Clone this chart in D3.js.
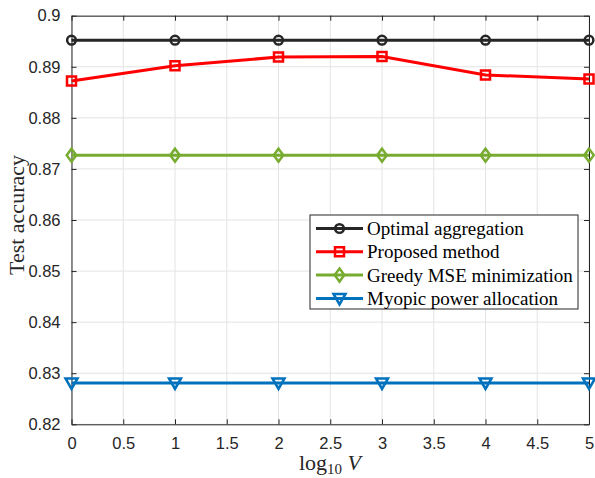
<!DOCTYPE html>
<html><head><meta charset="utf-8">
<script src="https://cdn.jsdelivr.net/npm/d3@7"></script>
<style>body{margin:0;background:#fff}svg{display:block}</style>
</head><body>
<svg id="c" width="595" height="478"></svg>
<script>
const xValues = [0, 1, 2, 3, 4, 5];
const optimal = [0.8952, 0.8952, 0.8952, 0.8952, 0.8952, 0.8952];
const proposed = [0.8872, 0.8902, 0.8919, 0.8920, 0.8884, 0.8876];
const greedy = [0.8727, 0.8727, 0.8727, 0.8727, 0.8727, 0.8727];
const myopic = [0.8281, 0.8281, 0.8281, 0.8281, 0.8281, 0.8281];
const seriesNames = ["Optimal aggregation", "Proposed method", "Greedy MSE minimization", "Myopic power allocation"];
const xTicks = [0, 0.5, 1, 1.5, 2, 2.5, 3, 3.5, 4, 4.5, 5];
const yTicks = [0.82, 0.83, 0.84, 0.85, 0.86, 0.87, 0.88, 0.89, 0.9];

const svg = d3.select("#c");
const L = 71.5, R = 589, T = 15.7, B = 424.3;
const x = d3.scaleLinear().domain([0, 5]).range([L, R]);
const y = d3.scaleLinear().domain([0.82, 0.9]).range([B, T]);
const axisCol = "#262626";

// grid
const g = svg.append("g");
g.selectAll(".gx").data(xTicks).enter().append("line")
  .attr("x1", d => x(d)).attr("x2", d => x(d)).attr("y1", T).attr("y2", B)
  .attr("stroke", "#e3e3e3").attr("stroke-width", 1);
g.selectAll(".gy").data(yTicks).enter().append("line")
  .attr("y1", d => y(d)).attr("y2", d => y(d)).attr("x1", L).attr("x2", R)
  .attr("stroke", "#e3e3e3").attr("stroke-width", 1);

// axes
const fmtY = d => d === 0.9 ? "0.9" : d3.format(".2f")(d);
const fmtX = d => String(d);
const ax = svg.append("g").attr("transform", `translate(0,${B})`)
  .call(d3.axisBottom(x).tickValues(xTicks).tickFormat(fmtX).tickSizeInner(-5).tickSizeOuter(0).tickPadding(13));
const ay = svg.append("g").attr("transform", `translate(${L},0)`)
  .call(d3.axisLeft(y).tickValues(yTicks).tickFormat(fmtY).tickSizeInner(-5).tickSizeOuter(0).tickPadding(11));
const axTop = svg.append("g").attr("transform", `translate(0,${T})`)
  .call(d3.axisTop(x).tickValues(xTicks).tickFormat("").tickSizeInner(-5).tickSizeOuter(0));
const ayR = svg.append("g").attr("transform", `translate(${R},0)`)
  .call(d3.axisRight(y).tickValues(yTicks).tickFormat("").tickSizeInner(-5).tickSizeOuter(0));
[ax, ay, axTop, ayR].forEach(a => {
  a.selectAll("path").attr("stroke", axisCol).attr("stroke-width", 1);
  a.selectAll("line").attr("stroke", axisCol).attr("stroke-width", 1);
  a.selectAll("text").attr("fill", axisCol).attr("font-family", "Liberation Sans, Arial, sans-serif").attr("font-size", 16.5);
});

// series
const series = [
  {name: seriesNames[0], vals: optimal, color: "#262626", marker: "circle"},
  {name: seriesNames[1], vals: proposed, color: "#ff0000", marker: "square"},
  {name: seriesNames[2], vals: greedy, color: "#77ac30", marker: "diamond"},
  {name: seriesNames[3], vals: myopic, color: "#0072bd", marker: "triangle"}
];
function markerPath(type) {
  if (type === "circle") return d3.symbol(d3.symbolCircle, 60)();
  if (type === "square") return "M-4.5,-4.5H4.5V4.5H-4.5Z";
  if (type === "diamond") return "M0,-6.5L4.8,0L0,6.5L-4.8,0Z";
  return "M-6,-4.5H6L0,6Z";
}
const line = d3.line().x((d, i) => x(xValues[i])).y(d => y(d));
series.forEach(s => {
  svg.append("path").datum(s.vals).attr("d", line)
    .attr("fill", "none").attr("stroke", s.color).attr("stroke-width", 3);
  svg.selectAll(null).data(s.vals).enter().append("path")
    .attr("d", markerPath(s.marker))
    .attr("transform", (d, i) => `translate(${x(xValues[i])},${y(d)})`)
    .attr("fill", "none").attr("stroke", s.color).attr("stroke-width", 2.5);
});

// legend
const lg = svg.append("g");
lg.append("rect").attr("x", 310).attr("y", 215).attr("width", 268).attr("height", 94)
  .attr("fill", "#fff").attr("stroke", axisCol).attr("stroke-width", 1);
series.forEach((s, i) => {
  const yy = 228.5 + i * 23.3;
  lg.append("line").attr("x1", 316).attr("x2", 363).attr("y1", yy).attr("y2", yy)
    .attr("stroke", s.color).attr("stroke-width", 3);
  lg.append("path").attr("d", markerPath(s.marker)).attr("transform", `translate(339.5,${yy})`)
    .attr("fill", "none").attr("stroke", s.color).attr("stroke-width", 2.5);
  lg.append("text").attr("x", 367).attr("y", yy + 6.5).text(s.name)
    .attr("font-family", "Liberation Serif, Times New Roman, serif").attr("font-size", 19).attr("fill", "#000");
});

// axis labels
svg.append("text").attr("transform", "translate(24,215) rotate(-90)").attr("text-anchor", "middle")
  .attr("font-family", "Liberation Serif, Times New Roman, serif").attr("font-size", 22).attr("fill", axisCol)
  .text("Test accuracy");
const xl = svg.append("text").attr("x", 330).attr("y", 470).attr("text-anchor", "middle")
  .attr("font-family", "Liberation Serif, Times New Roman, serif").attr("font-size", 22).attr("fill", axisCol);
xl.append("tspan").text("log");
xl.append("tspan").attr("font-size", 15).attr("dy", 4).text("10");
xl.append("tspan").attr("dy", -4).text(" ");
xl.append("tspan").attr("font-style", "italic").text("V");
</script>
</body></html>
